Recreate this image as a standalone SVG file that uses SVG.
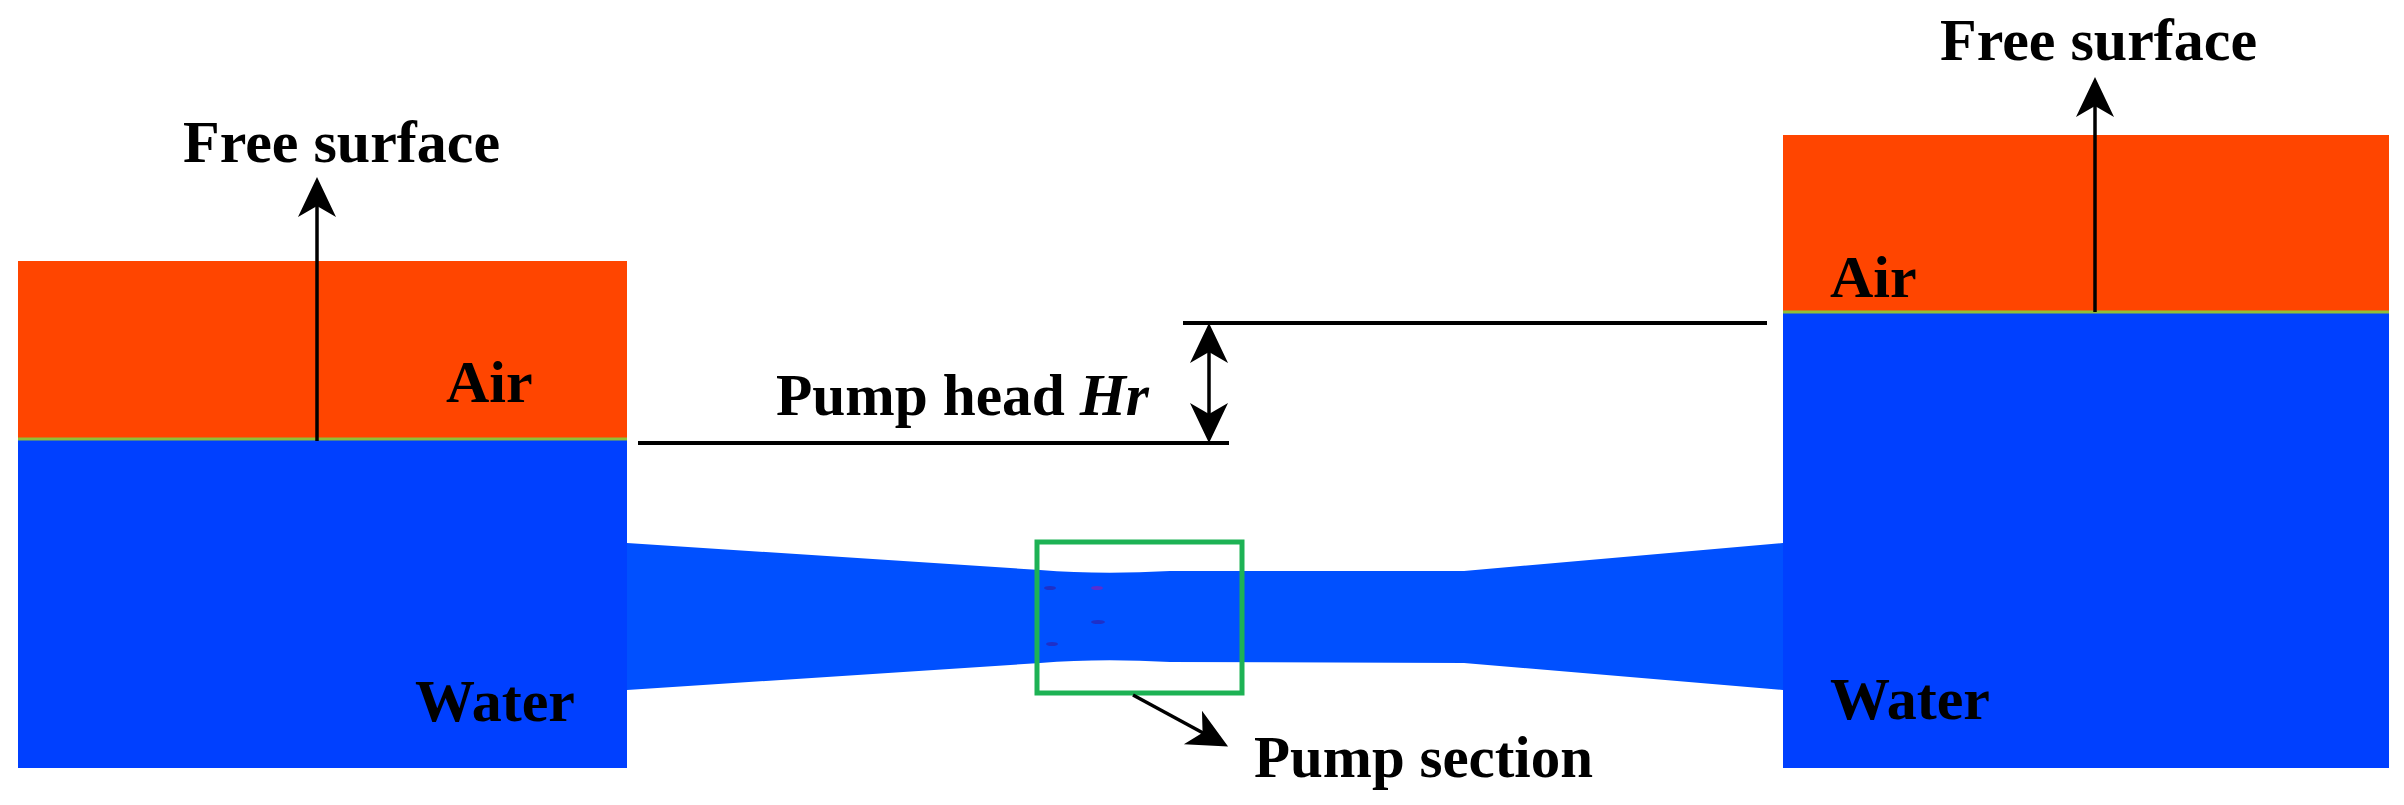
<svg xmlns="http://www.w3.org/2000/svg" width="2404" height="805" viewBox="0 0 2404 805">
<style>
.lbl{font-family:"Liberation Serif","Times New Roman",serif;font-weight:bold;font-size:60px;fill:#000}
.air{fill:#FF4500}
.water{fill:#0040FF}
.iface{stroke:#8FBF3A;stroke-width:3}
.ln{stroke:#000;stroke-width:4;fill:none}
.arr{stroke:#000;stroke-width:3.5;fill:none}
.speck{fill:#1E30C8}
</style>
<defs>
<marker id="ah" markerUnits="userSpaceOnUse" markerWidth="70" markerHeight="50" viewBox="-45 -25 70 50" refX="-20" refY="0" orient="auto-start-reverse">
<path d="M0,0 L-40,-19 L-29,0 L-40,19 Z" fill="#000"/>
</marker>
</defs>
<rect width="2404" height="805" fill="#fff"/>
<g id="pipe">
<path d="M627,543 L1040,570 Q1100,575 1170,571 L1464,571 L1783,543 L1783,690 L1464,663 L1170,662 Q1100,658 1040,663 L627,690 Z" fill="#0050FF"/>
<ellipse class="speck" cx="1050" cy="588" rx="6" ry="2"/>
<ellipse cx="1097" cy="588" rx="6" ry="2" fill="#5A2ED0"/>
<ellipse class="speck" cx="1098" cy="622" rx="7" ry="2"/>
<ellipse class="speck" cx="1052" cy="644" rx="6" ry="2"/>
</g>
<g id="left-tank">
<rect class="air" x="18" y="261" width="609" height="178"/>
<rect class="water" x="18" y="439" width="609" height="329"/>
<line class="iface" x1="18" y1="439" x2="627" y2="439"/>
<text class="lbl" x="446" y="402">Air</text>
<text class="lbl" x="415" y="721">Water</text>
</g>
<g id="right-tank">
<rect class="air" x="1783" y="135" width="606" height="177"/>
<rect class="water" x="1783" y="312" width="606" height="456"/>
<line class="iface" x1="1783" y1="312" x2="2389" y2="312"/>
<text class="lbl" x="1830" y="297">Air</text>
<text class="lbl" x="1830" y="719">Water</text>
</g>
<g id="pump-section-box">
<rect x="1037" y="542" width="205" height="151" fill="none" stroke="#1DB254" stroke-width="5"/>
</g>
<g id="labels">
<text class="lbl" x="183" y="162">Free surface</text>
<text class="lbl" x="1940" y="60">Free surface</text>
<text class="lbl" x="776" y="415" textLength="373" lengthAdjust="spacingAndGlyphs">Pump head <tspan font-style="italic">Hr</tspan></text>
<text class="lbl" x="1254" y="777" textLength="339" lengthAdjust="spacingAndGlyphs">Pump section</text>
</g>
<g id="connectors">
<line class="ln" x1="638" y1="443" x2="1229" y2="443"/>
<line class="ln" x1="1183" y1="323" x2="1767" y2="323"/>
<line class="arr" x1="1209" y1="343" x2="1209" y2="423" marker-start="url(#ah)" marker-end="url(#ah)"/>
<line class="arr" x1="317" y1="441" x2="317" y2="197" marker-end="url(#ah)"/>
<line class="arr" x1="2095" y1="312" x2="2095" y2="97" marker-end="url(#ah)"/>
<line class="arr" x1="1133" y1="695" x2="1210.5" y2="737" marker-end="url(#ah)"/>
</g>
</svg>
